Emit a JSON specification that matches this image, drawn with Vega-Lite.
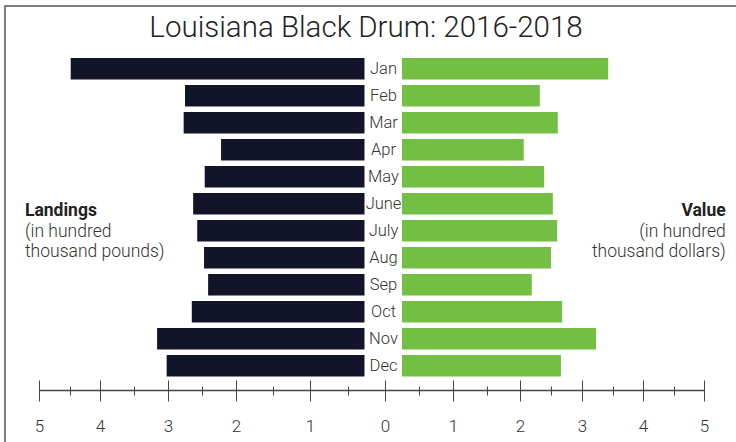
{
  "$schema": "https://vega.github.io/schema/vega-lite/v6.json",
  "width": 740,
  "height": 440,
  "autosize": {"type": "none"},
  "padding": {"left": 5, "top": 6, "right": -9, "bottom": -4},
  "background": "white",
  "config": {
    "view": {"stroke": "#555555", "strokeWidth": 1.5},
    "font": "Roboto",
    "axis": {
      "grid": false,
      "labelFont": "Roboto",
      "labelFontWeight": 300,
      "labelFontSize": 17,
      "labelColor": "#333333",
      "tickColor": "#444444",
      "tickWidth": 1,
      "domainColor": "#444444",
      "domainWidth": 1.5,
      "labelFlush": false,
      "labelOverlap": false
    }
  },
  "title": {
    "text": "Louisiana Black Drum: 2016-2018",
    "font": "Roboto",
    "fontSize": 29.5,
    "fontWeight": 300,
    "color": "#222222",
    "anchor": "middle",
    "frame": "group",
    "baseline": "alphabetic",
    "offset": -32,
    "dx": -9,
    "dy": 28
  },
  "datasets": {
    "drum": [
      {"month": "Jan", "landings": 4.48, "value": 3.43},
      {"month": "Feb", "landings": 2.75, "value": 2.32},
      {"month": "Mar", "landings": 2.77, "value": 2.61},
      {"month": "Apr", "landings": 2.22, "value": 2.06},
      {"month": "May", "landings": 2.46, "value": 2.39},
      {"month": "June", "landings": 2.63, "value": 2.53},
      {"month": "July", "landings": 2.57, "value": 2.6},
      {"month": "Aug", "landings": 2.47, "value": 2.5},
      {"month": "Sep", "landings": 2.41, "value": 2.19},
      {"month": "Oct", "landings": 2.65, "value": 2.68},
      {"month": "Nov", "landings": 3.16, "value": 3.23},
      {"month": "Dec", "landings": 3.02, "value": 2.66}
    ]
  },
  "data": {"name": "drum"},
  "layer": [
    {
      "mark": {"type": "bar", "color": "#121429", "x2Offset": -20.5},
      "encoding": {
        "y": {
          "field": "month", "type": "nominal",
          "scale": {
            "domain": ["Jan", "Feb", "Mar", "Apr", "May", "June", "July", "Aug", "Sep", "Oct", "Nov", "Dec"],
            "range": [49.3, 373.3],
            "paddingInner": 0.2,
            "paddingOuter": 0.1
          },
          "axis": null
        },
        "x": {
          "field": "landings", "type": "quantitative",
          "scale": {"domain": [0, 1, 2, 3, 4, 5], "range": [380, 305, 231, 163, 95, 34], "nice": false, "zero": false},
          "axis": {"orient": "bottom", "offset": -56, "values": [0, 1, 2, 3, 4, 5], "format": "d", "tickSize": 11, "labelPadding": 17, "title": null}
        },
        "x2": {"datum": 0}
      }
    },
    {
      "mark": {"type": "bar", "color": "#72bf44", "x2Offset": 17},
      "encoding": {
        "y": {"field": "month", "type": "nominal"},
        "x": {
          "field": "value", "type": "quantitative",
          "scale": {"domain": [0, 1, 2, 3, 4, 5], "range": [380, 448, 515, 577, 638, 699], "nice": false, "zero": false},
          "axis": {"orient": "bottom", "offset": -56, "values": [1, 2, 3, 4, 5], "format": "d", "tickSize": 11, "labelPadding": 17, "title": null}
        },
        "x2": {"datum": 0}
      }
    },
    {
      "mark": {"type": "text", "fontSize": 16.5, "fontWeight": 300, "font": "Roboto", "color": "#333333", "align": "center", "baseline": "middle", "xOffset": -1.5},
      "encoding": {
        "y": {"field": "month", "type": "nominal"},
        "x": {
          "datum": 0, "type": "quantitative",
          "scale": {"domain": [-5, -4, -3, -2, -1, 0, 1, 2, 3, 4, 5], "range": [34, 95, 163, 231, 305, 380, 448, 515, 577, 638, 699], "nice": false, "zero": false},
          "axis": {"orient": "bottom", "offset": -66, "values": [-5, -4, -3, -2, -1, 0, 1, 2, 3, 4, 5], "tickSize": 10, "labels": false, "domain": false, "title": null}
        },
        "text": {"field": "month", "type": "nominal"}
      }
    },
    {
      "layer": [
        {
          "data": {"values": [{"t": "Landings"}]},
          "mark": {"type": "text", "fontSize": 17.5, "fontWeight": "bold", "font": "Roboto", "color": "#222222", "align": "left", "baseline": "alphabetic", "yOffset": 12},
          "encoding": {
            "y": {"datum": "June", "type": "nominal"},
            "x": {
              "datum": -5.23, "type": "quantitative",
              "scale": {"domain": [-5, -4, -3, -2, -1, 0, 1, 2, 3, 4, 5], "range": [34, 95, 163, 231, 305, 380, 448, 515, 577, 638, 699], "nice": false, "zero": false},
              "axis": {"orient": "bottom", "offset": -60, "values": [-4.5, -3.5, -2.5, -1.5, -0.5, 0.5, 1.5, 2.5, 3.5, 4.5], "tickSize": 9, "labels": false, "domain": false, "title": null}
            },
            "text": {"field": "t", "type": "nominal"}
          }
        },
        {
          "data": {"values": [{"t": ["(in hundred", "thousand pounds)"]}]},
          "mark": {"type": "text", "fontSize": 17.5, "fontWeight": 300, "font": "Roboto", "color": "#333333", "align": "left", "baseline": "alphabetic", "lineHeight": 20, "yOffset": 33},
          "encoding": {
            "y": {"datum": "June", "type": "nominal"},
            "x": {"datum": -5.23, "type": "quantitative"},
            "text": {"field": "t", "type": "nominal"}
          }
        },
        {
          "data": {"values": [{"t": "Value"}]},
          "mark": {"type": "text", "fontSize": 17.5, "fontWeight": "bold", "font": "Roboto", "color": "#222222", "align": "right", "baseline": "alphabetic", "yOffset": 12},
          "encoding": {
            "y": {"datum": "June", "type": "nominal"},
            "x": {"datum": 5.356, "type": "quantitative"},
            "text": {"field": "t", "type": "nominal"}
          }
        },
        {
          "data": {"values": [{"t": ["(in hundred", "thousand dollars)"]}]},
          "mark": {"type": "text", "fontSize": 17.5, "fontWeight": 300, "font": "Roboto", "color": "#333333", "align": "right", "baseline": "alphabetic", "lineHeight": 20, "yOffset": 33},
          "encoding": {
            "y": {"datum": "June", "type": "nominal"},
            "x": {"datum": 5.356, "type": "quantitative"},
            "text": {"field": "t", "type": "nominal"}
          }
        }
      ]
    }
  ],
  "resolve": {"scale": {"x": "independent"}, "axis": {"x": "independent"}}
}
